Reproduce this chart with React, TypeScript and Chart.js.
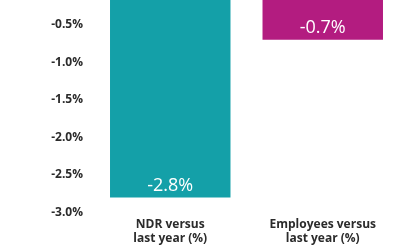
import React, { useEffect, useRef } from "react";
import { Chart, registerables } from "chart.js";

Chart.register(...registerables);

const categories: string[][] = [
  ["NDR versus", "last year (%)"],
  ["Employees versus", "last year (%)"],
];
const values: number[] = [-2.8, -0.7];
const valueLabels: string[] = ["-2.8%", "-0.7%"];
const tickValues: number[] = [-3.0, -2.5, -2.0, -1.5, -1.0, -0.5];
const barColors: string[] = ["#14A0A8", "#B31C80"];

const valueLabelPlugin = {
  id: "valueLabels",
  afterDatasetsDraw(chart: any) {
    const ctx = chart.ctx;
    const meta = chart.getDatasetMeta(0);
    ctx.save();
    ctx.fillStyle = "#ffffff";
    ctx.font = "18px 'Open Sans', sans-serif";
    ctx.textAlign = "center";
    ctx.textBaseline = "middle";
    meta.data.forEach((bar: any, i: number) => {
      ctx.fillText(valueLabels[i], bar.x, bar.y - 12);
    });
    ctx.restore();
  },
};

export default function App() {
  const ref = useRef<HTMLCanvasElement | null>(null);
  useEffect(() => {
    if (!ref.current) return;
    const chart = new Chart(ref.current, {
      type: "bar",
      data: {
        labels: categories,
        datasets: [
          {
            data: values,
            backgroundColor: barColors,
            barPercentage: 0.79,
            categoryPercentage: 1,
          },
        ],
      },
      options: {
        animation: false,
        responsive: false,
        maintainAspectRatio: false,
        layout: { padding: { left: 0, right: 21, top: 0, bottom: 0 } },
        plugins: { legend: { display: false }, tooltip: { enabled: false } },
        scales: {
          x: {
            grid: { display: false, drawTicks: false },
            border: { display: false },
            ticks: {
              padding: 5,
              color: "#2b2b2b",
              font: { family: "'Open Sans', sans-serif", size: 12, weight: "bold", lineHeight: 1.15 },
            },
          },
          y: {
            min: -3.0,
            max: -0.17,
            grid: { display: false, drawTicks: false },
            border: { display: false },
            afterBuildTicks: (scale: any) => {
              scale.ticks = tickValues.map((v) => ({ value: v }));
            },
            afterFit: (scale: any) => {
              scale.width = 94;
              scale.paddingTop = 0;
            },
            ticks: {
              padding: 11,
              color: "#2b2b2b",
              font: { family: "'Open Sans', sans-serif", size: 12, weight: "bold" },
              callback: (v: any) => Number(v).toFixed(1) + "%",
            },
          },
        },
      },
      plugins: [valueLabelPlugin],
    });
    return () => chart.destroy();
  }, []);
  return (
    <div style={{ position: "absolute", left: 0, top: 0, width: 420, height: 250, background: "#fff" }}>
      <canvas ref={ref} width={420} height={250} style={{ display: "block" }} />
    </div>
  );
}
